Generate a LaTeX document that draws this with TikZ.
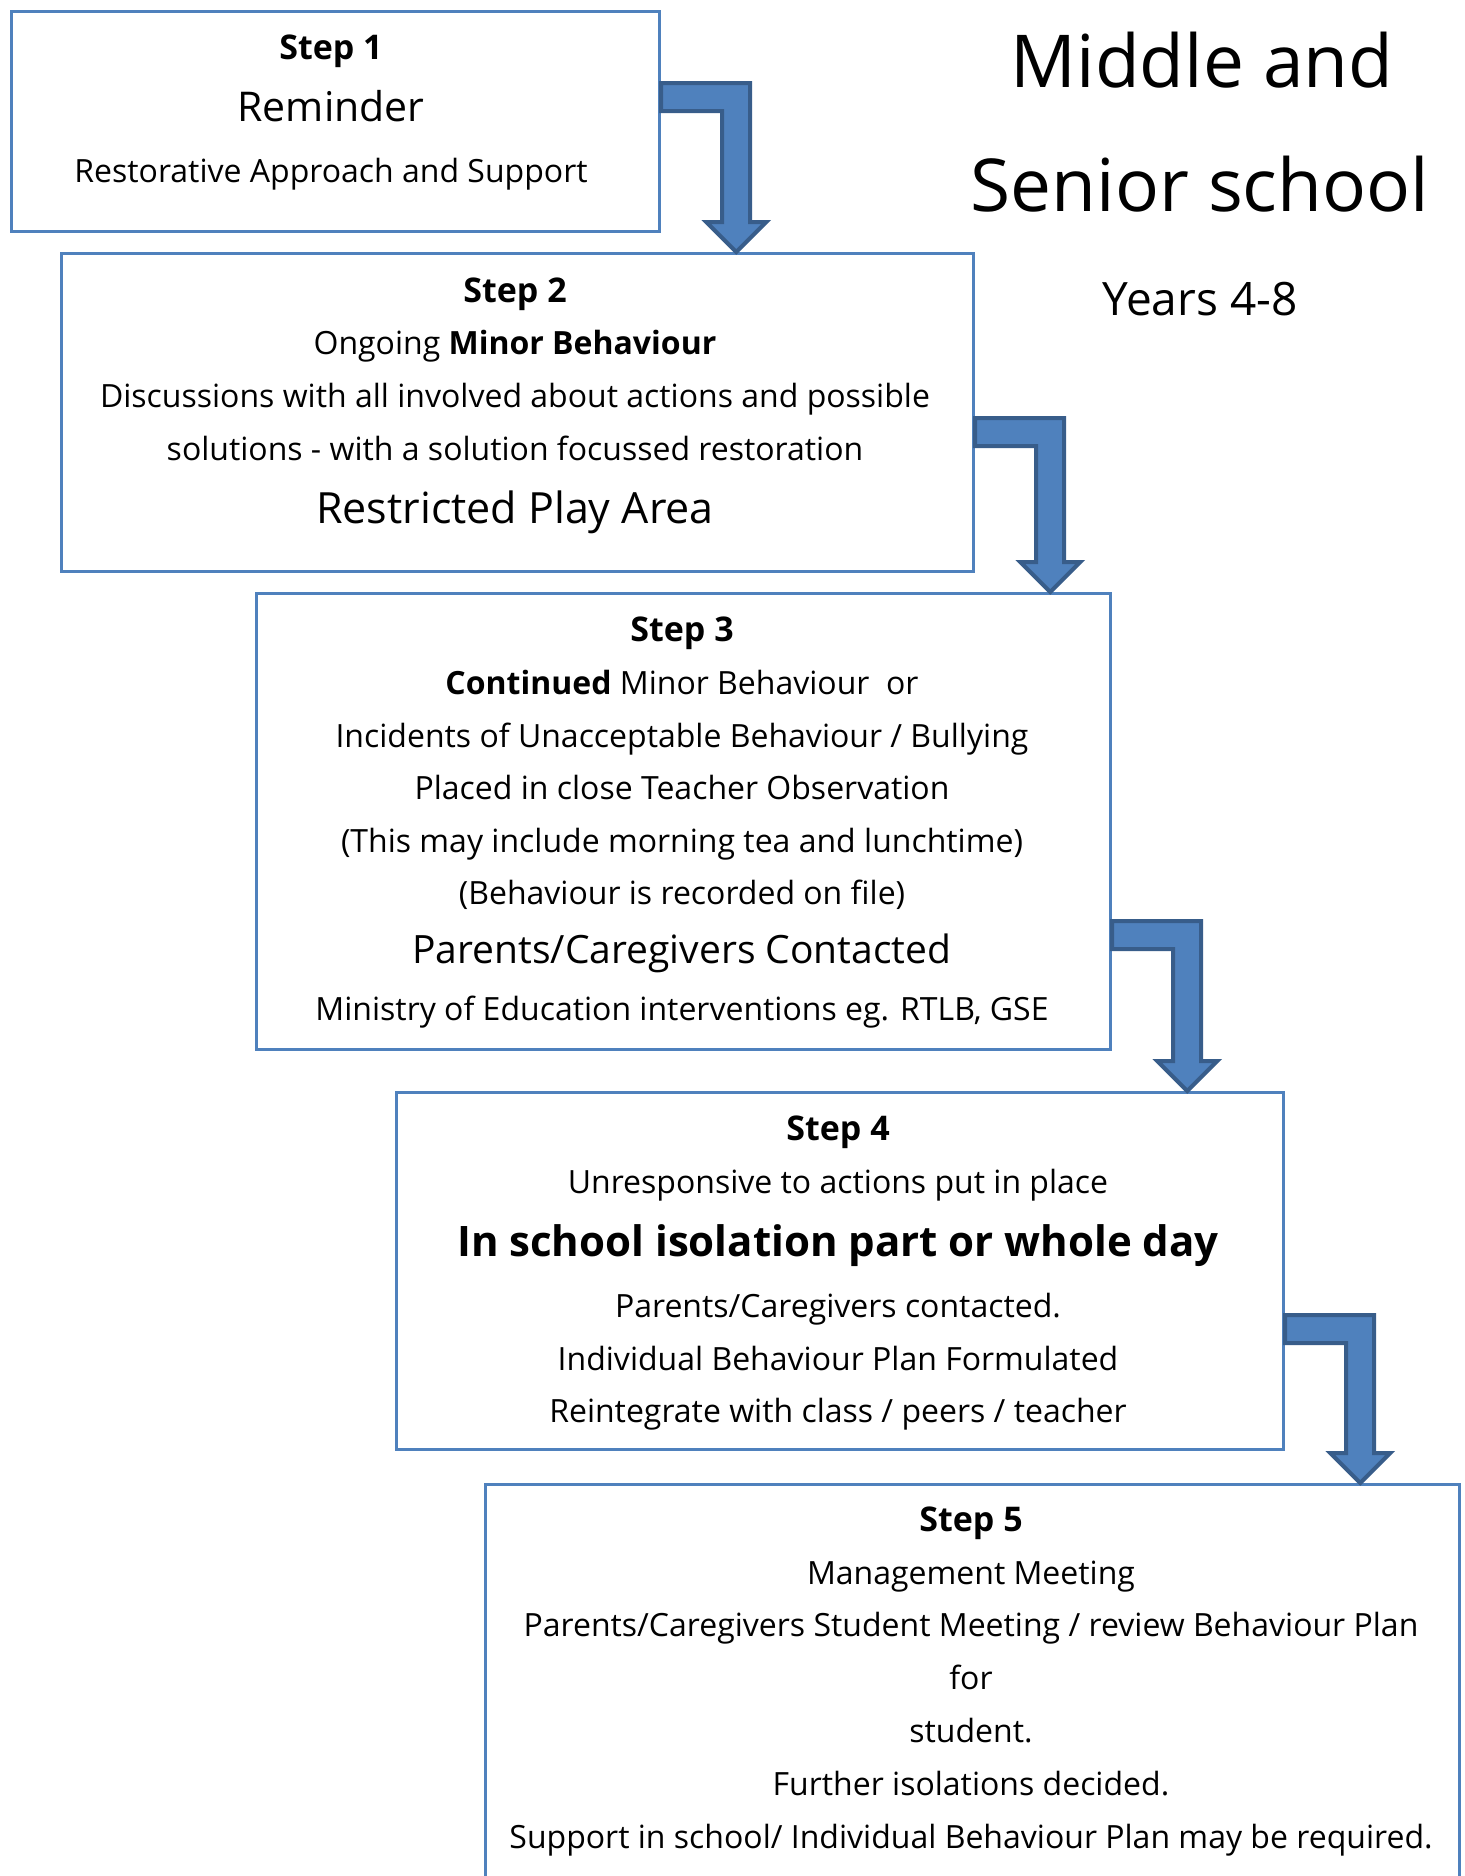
\documentclass[tikz,border=0pt]{standalone}
\usepackage{fontspec}
\setmainfont{Open Sans}
\usetikzlibrary{calc}
\definecolor{boxblue}{HTML}{4F81BD}
\definecolor{arrdark}{HTML}{385D8A}
\newcommand{\bentarr}[3]{%
  \coordinate (tmpy) at (0,#3);
  \coordinate (tmps) at (#1.east |- tmpy);
  \coordinate (tmpt) at ($(tmps)+(75,0)$);
  \coordinate (tmpT) at (tmpt |- #2.north);
  \draw[arr] (tmps) -- ($(tmps)+(89,0)$) -- ($(tmpT)+(14,-30)$) -- ($(tmpT)+(30,-30)$)
    -- (tmpT) -- ($(tmpT)+(-30,-30)$) -- ($(tmpT)+(-14,-30)$) -- ($(tmps)+(61,28)$)
    -- ($(tmps)+(0,28)$) -- cycle;
}
\begin{document}
\begin{tikzpicture}[x=0.5pt,y=-0.5pt,
  box/.style={draw=boxblue,line width=1.6pt,inner sep=0pt,anchor=north west},
  arr/.style={fill=boxblue,draw=arrdark,line width=2pt,line join=miter},
  txt/.style={anchor=mid,inner sep=0pt,font=\fontsize{16}{19}\selectfont},
  stp/.style={anchor=mid,inner sep=0pt,font=\fontsize{17}{20}\selectfont\bfseries},
  big/.style={anchor=mid,inner sep=0pt,font=\fontsize{20.5}{24}\selectfont},
  ttl/.style={anchor=mid,inner sep=0pt,font=\fontsize{36.5}{44}\selectfont}]
\useasboundingbox[fill=white] (0,0) rectangle (1464,1876);
% boxes
\node[box,minimum width=324pt,minimum height=110pt] (b1) at (10,10) {};
\node[box,minimum width=456pt,minimum height=159pt] (b2) at (60,252) {};
\node[box,minimum width=427pt,minimum height=228pt] (b3) at (255,592) {};
\node[box,minimum width=443.5pt,minimum height=178.5pt] (b4) at (395,1091) {};
\node[box,minimum width=487pt,minimum height=220pt] (b5) at (484,1483) {};
% title
\node[ttl] (title1) at (1202,82) {Middle and};
\node[ttl] (title2) at (1200,206) {Senior school};
\node[big,font=\fontsize{23}{26}\selectfont] (years) at (1200,310) {Years 4-8};
% step 1
\node[stp] (t1a) at (331,54) {Step 1};
\node[big] (t1b) at (331,116) {Reminder};
\node[txt] (t1c) at (331,177) {Restorative Approach and Support};
% step 2
\node[stp] (t2a) at (515,297) {Step 2};
\node[txt] (t2b) at (515,349) {Ongoing \textbf{Minor Behaviour}};
\node[txt] (t2c) at (515,402) {Discussions with all involved about actions and possible};
\node[txt] (t2d) at (515,455) {solutions - with a solution focussed restoration};
\node[big,font=\fontsize{21.5}{24}\selectfont] (t2e) at (515,518) {Restricted Play Area};
% step 3
\node[stp] (t3a) at (682,636) {Step 3};
\node[txt] (t3b) at (682,689) {\textbf{Continued} Minor Behaviour\ \ or};
\node[txt] (t3c) at (682,742) {Incidents of Unacceptable Behaviour / Bullying};
\node[txt] (t3d) at (682,794) {Placed in close Teacher Observation};
\node[txt] (t3e) at (682,847) {(This may include morning tea and lunchtime)};
\node[txt] (t3f) at (682,899) {(Behaviour is recorded on file)};
\node[big,font=\fontsize{19.5}{24}\selectfont] (t3g) at (682,958) {Parents/Caregivers Contacted};
\node[txt] (t3h) at (682,1015) {Ministry of Education interventions eg. RTLB, GSE};
% step 4
\node[stp] (t4a) at (838,1135) {Step 4};
\node[txt] (t4b) at (838,1188) {Unresponsive to actions put in place};
\node[big,font=\fontsize{21}{24}\selectfont\bfseries] (t4c) at (838,1251) {In school isolation part or whole day};
\node[txt] (t4d) at (838,1312) {Parents/Caregivers contacted.};
\node[txt] (t4e) at (838,1365) {Individual Behaviour Plan Formulated};
\node[txt] (t4f) at (838,1417) {Reintegrate with class / peers / teacher};
% step 5
\node[stp] (t5a) at (971,1526) {Step 5};
\node[txt] (t5b) at (971,1579) {Management Meeting};
\node[txt] (t5c) at (971,1631) {Parents/Caregivers Student Meeting / review Behaviour Plan};
\node[txt] (t5d) at (971,1684) {for};
\node[txt] (t5e) at (971,1737) {student.};
\node[txt] (t5f) at (971,1790) {Further isolations decided.};
\node[txt] (t5g) at (971,1843) {Support in school/ Individual Behaviour Plan may be required.};
% arrows
\bentarr{b1}{b2}{83}
\bentarr{b2}{b3}{418}
\bentarr{b3}{b4}{921}
\bentarr{b4}{b5}{1315}
\end{tikzpicture}
\end{document}
